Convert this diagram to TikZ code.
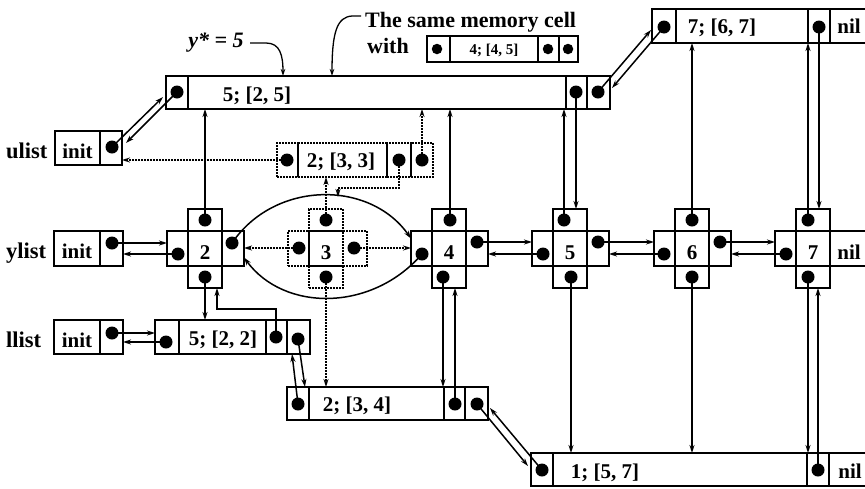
\documentclass[tikz,border=0pt]{standalone}
\usepackage{fontspec}
\setmainfont{Liberation Serif}
\usetikzlibrary{arrows.meta}
\tikzset{
 cell/.style={draw, line width=1.9pt, inner sep=0pt, outer sep=0pt, rectangle},
 dcell/.style={cell, line width=1.6pt, dash pattern=on 1.6pt off 1.4pt},
 scell/.style={cell, line width=1.6pt},
 arr/.style={line width=1.5pt, -{Stealth[length=8pt,width=5pt]}},
 darr/.style={arr, dash pattern=on 1.6pt off 1.4pt},
 narr/.style={line width=1.3pt, -{Stealth[length=7pt,width=4.5pt]}},
 txt/.style={font=\fontsize{21}{23}\selectfont\bfseries, inner sep=0pt, anchor=base},
 lab/.style={font=\fontsize{22.5}{24}\selectfont\bfseries, inner sep=0pt, anchor=base west},
 captxt/.style={font=\fontsize{22}{24}\selectfont\bfseries, inner sep=0pt, anchor=base west},
 small/.style={font=\fontsize{15}{16}\selectfont\bfseries, inner sep=0pt, anchor=base},
 dot/.style={circle, fill, inner sep=0pt, minimum size=13pt},
 sdot/.style={dot, minimum size=10.5pt},
}
\newcommand\cellat[6][cell]{\node[#1,minimum width={((#5)-(#3))*1pt},minimum height={((#6)-(#4))*1pt}] (#2) at ({((#3)+(#5))/2},{((#4)+(#6))/2}) {};}
\newcommand\crossat[5][cell]{%
 \cellat[#1]{#2c}{#3-17}{231}{#3+17}{266}
 \cellat[#1]{#2l}{#3-38}{231}{#3-17}{266}
 \cellat[#1]{#2r}{#3+17}{231}{#5}{266}
 \cellat[#1]{#2t}{#3-17}{209}{#3+17}{231}
 \cellat[#1]{#2b}{#3-17}{266}{#3+17}{288}
 \node[txt] (#2n) at (#3,259) {#4};}
\begin{document}
\begin{tikzpicture}[x=1pt,y=-1pt]
\useasboundingbox (0,0) rectangle (865,488);
% list heads
\node[lab] (ulab) at (6,158) {ulist};
\node[lab] (ylab) at (6,258) {ylist};
\node[lab] (llab) at (6,347) {llist};
\cellat{uI}{55}{131}{100}{165} \cellat{uP}{100}{131}{122}{165}
\cellat{yI}{54}{231}{100}{266} \cellat{yP}{100}{231}{123}{266}
\cellat{lI}{54}{320}{100}{354} \cellat{lP}{100}{320}{123}{354}
\node[txt] (uIt) at (77.5,158) {init};
\node[txt] (yIt) at (77,258) {init};
\node[txt] (lIt) at (77,347) {init};
% top node
\cellat{T0}{166}{76}{188}{109} \cellat{T1}{188}{76}{566}{109}
\cellat{T2}{566}{76}{587}{109} \cellat{T3}{587}{76}{610}{109}
\node[txt] (T1t) at (257,101) {5; [2, 5]};
% top right node
\cellat{R0}{652}{9}{676}{43} \cellat{R1}{676}{9}{808}{43}
\cellat{R2}{808}{9}{830}{43} \cellat{R3}{830}{9}{885}{43}
\node[txt] (R1t) at (722,33) {7; [6, 7]};
\node[txt] (R3t) at (849,33) {nil};
% bottom node
\cellat{B0}{531}{453}{553}{486} \cellat{B1}{553}{453}{807}{486}
\cellat{B2}{807}{453}{829}{486} \cellat{B3}{829}{453}{885}{486}
\node[txt] (B1t) at (605,478) {1; [5, 7]};
\node[txt] (B3t) at (850,478) {nil};
% middle bottom node
\cellat{M0}{287}{387}{309}{420} \cellat{M1}{309}{387}{444}{420}
\cellat{M2}{444}{387}{465}{420} \cellat{M3}{465}{387}{488}{420}
\node[txt] (M1t) at (357,411) {2; [3, 4]};
% llist node
\cellat{L0}{155}{320}{179}{354} \cellat{L1}{179}{320}{266}{354}
\cellat{L2}{266}{320}{287}{354} \cellat{L3}{287}{320}{310}{354}
\node[txt] (L1t) at (223,345) {5; [2, 2]};
% dotted node
\cellat[dcell]{D0}{277}{143}{298}{177} \cellat[dcell]{D1}{298}{143}{387}{177}
\cellat[dcell]{D2}{387}{143}{411}{177} \cellat[dcell]{D3}{411}{143}{433}{177}
\node[txt] (D1t) at (341,167) {2; [3, 3]};
% memory cell
\cellat[scell]{S0}{427}{36}{450}{62} \cellat[scell]{S1}{450}{36}{538}{62}
\cellat[scell]{S2}{538}{36}{559}{62} \cellat[scell]{S3}{559}{36}{578}{62}
\node[small] (S1t) at (494,54) {4; [4, 5]};
\node[captxt] (capA) at (365,27) {The same memory cell};
\node[captxt] (capB) at (367,53) {with};
\node[captxt, anchor=base] (ystar) at (216,47) {\itshape y* = 5};
% crosses
\crossat{c2}{205}{2}{244}
\crossat[dcell]{c3}{326}{3}{367}
\crossat{c4}{449}{4}{488}
\crossat{c5}{570}{5}{609}
\crossat{c6}{692}{6}{731}
\crossat{c7}{813}{7}{885}
\node[txt] (c7nil) at (849,259) {nil};
% dots
\node[dot] (uPd) at (112,147) {};
\node[dot] (yPd) at (112,243) {};
\node[dot] (lPd) at (112,333) {};
\node[dot] (T0d) at (177,92) {};
\node[dot] (T2d) at (576,92) {};
\node[dot] (T3d) at (598,92) {};
\node[dot] (R0d) at (664,27) {};
\node[dot] (R2d) at (819,27) {};
\node[dot] (B0d) at (542,470) {};
\node[dot] (B2d) at (818,470) {};
\node[dot] (M0d) at (298,404) {};
\node[dot] (M2d) at (455,404) {};
\node[dot] (M3d) at (477,404) {};
\node[dot] (L0d) at (166,342) {};
\node[dot] (L2d) at (276,337) {};
\node[dot] (L3d) at (298,339) {};
\node[dot] (D0d) at (287,160) {};
\node[dot] (D2d) at (399,160) {};
\node[dot] (D3d) at (422,160) {};
\node[sdot] (S0d) at (437,49) {};
\node[sdot] (S2d) at (548,49) {};
\node[sdot] (S3d) at (568,49) {};
\node[dot] (c2td) at (205,220) {}; \node[dot] (c2bd) at (205,277) {};
\node[dot] (c2ld) at (178,254) {}; \node[dot] (c2rd) at (232,243) {};
\node[dot] (c3td) at (326,220) {}; \node[dot] (c3bd) at (326,277) {};
\node[dot] (c3ld) at (299,248) {}; \node[dot] (c3rd) at (354,248) {};
\node[dot] (c4td) at (450,220) {}; \node[dot] (c4bd) at (443,277) {};
\node[dot] (c4ld) at (422,254) {}; \node[dot] (c4rd) at (477,242) {};
\node[dot] (c5td) at (564,220) {}; \node[dot] (c5bd) at (571,277) {};
\node[dot] (c5ld) at (543,254) {}; \node[dot] (c5rd) at (598,242) {};
\node[dot] (c6td) at (692,220) {}; \node[dot] (c6bd) at (692,277) {};
\node[dot] (c6ld) at (664,254) {}; \node[dot] (c6rd) at (720,242) {};
\node[dot] (c7td) at (808,220) {}; \node[dot] (c7bd) at (808,277) {};
\node[dot] (c7ld) at (786,254) {};
% solid connectors
\draw[arr] (uPd.center) -- (163,97);
\draw[arr] (T0d.center) -- (126,143);
\draw[arr] (c2td.center) -- (c2td.center |- T1.south);
\draw[arr] (c4td.center) -- (c4td.center |- T1.south);
\draw[arr] (c5td.center) -- (c5td.center |- T1.south);
\draw[arr] (T2d.center) -- (T2d.center |- c5t.north);
\draw[arr] (T3d.center) -- (651,30);
\draw[arr] (R0d.center) -- (612,88);
\draw[arr] (c6td.center) -- (c6td.center |- R1.south);
\draw[arr] (c7td.center) -- (c7td.center |- R1.south);
\draw[arr] (R2d.center) -- (R2d.center |- c7t.north);
\draw[arr] (yPd.center) -- (yPd.center -| c2l.west);
\draw[arr] (c2ld.center) -- (c2ld.center -| yP.east);
\draw[arr] (c2rd.center) .. controls (275,180) and (370,180) .. ([yshift=10pt]c4l.west);
\draw[arr] (c4ld.center) .. controls (372,312) and (284,312) .. ([yshift=-9pt]c2r.east);
\draw[arr] (c4rd.center) -- (c4rd.center -| c5l.west);
\draw[arr] (c5ld.center) -- (c5ld.center -| c4r.east);
\draw[arr] (c5rd.center) -- (c5rd.center -| c6l.west);
\draw[arr] (c6ld.center) -- (c6ld.center -| c5r.east);
\draw[arr] (c6rd.center) -- (c6rd.center -| c7l.west);
\draw[arr] (c7ld.center) -- (c7ld.center -| c6r.east);
\draw[arr] (c2bd.center) -- (c2bd.center |- L1.north);
\draw[arr] (L2d.center) |- ([xshift=12pt,yshift=-21pt]c2b.south) -- ([xshift=12pt]c2b.south);
\draw[arr] (lPd.center) -- (lPd.center -| L0.west);
\draw[arr] (L0d.center) -- (L0d.center -| lP.east);
\draw[arr] (L3d.center) -- ([xshift=-4pt]M0.north east);
\draw[arr] (M0d.center) -- ([xshift=5pt]L3.south west);
\draw[arr] (c4bd.center) -- (c4bd.center |- M1.north);
\draw[arr] (M2d.center) -- (M2d.center |- c4b.south);
\draw[arr] (M3d.center) -- (528,466);
\draw[arr] (B0d.center) -- (490,408);
\draw[arr] (c5bd.center) -- (c5bd.center |- B1.north);
\draw[arr] (c6bd.center) -- (c6bd.center |- B1.north);
\draw[arr] (c7bd.center) -- (c7bd.center |- B1.north);
\draw[arr] (B2d.center) -- (B2d.center |- c7b.south);
% dotted connectors
\draw[darr] (D0d.center) -- (D0d.center -| uP.east);
\draw[darr] (D3d.center) -- (D3d.center |- T1.south);
\draw[darr] (c3td.center) -- (c3td.center |- D1.south);
\draw[darr] (D2d.center) |- (338,188) -- (338,197);
\draw[darr] (c3ld.center) -- (c3ld.center -| c2r.east);
\draw[darr] (c3rd.center) -- (c3rd.center -| c4l.west);
\draw[darr] (c3bd.center) -- (c3bd.center |- M1.north);
% annotations
\draw[narr] (250,43) -- (266,43) .. controls (280,43) and (283,55) .. (283,76);
\draw[narr] (361,16) -- (352,16) .. controls (337,17) and (332,32) .. (332,76);
\end{tikzpicture}
\end{document}
